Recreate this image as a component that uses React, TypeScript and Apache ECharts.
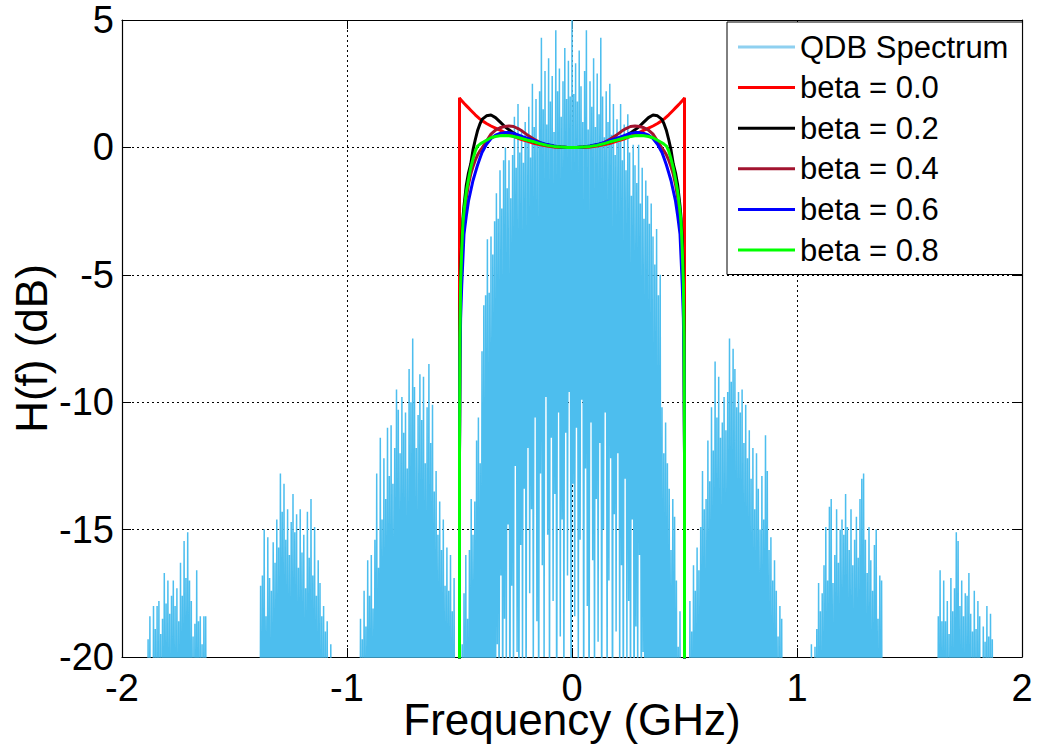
import React, { useEffect, useRef } from "react";
import * as echarts from "echarts";

// ---------- Spectrum (QDB) : spike peaks ----------
const SPEC_STEP = 0.008; // GHz between neighbouring spikes
const FLOOR_DB = -30; // nulls between spikes fall below the axis

const L3_START = -1.884;
const L3_PEAKS = [-19.3, -18.4, -21, -18.0, -18.9, -18.0, -17.8, -19.1, -18.5, -16.7, -17.9, -17.0, -18.3, -17.6, -17.0, -18.0, -17.3, -18.6, -16.3, -17.6, -15.45, -16.9, -15.1, -17.0, -17.8, -19.2, -18.7, -16.6, -18.6, -18.4, -19.5, -18.4, -18.4];

const L2_START = -1.384;
const L2_PEAKS = [-17.2, -16.8, -15.0, -18.4, -15.3, -16.9, -17.4, -15.5, -16.3, -14.6, -15.7, -12.8, -14.3, -13.2, -15.4, -14.2, -16.0, -14.7, -13.6, -15.1, -14.4, -16.5, -14.2, -15.9, -15.2, -17.3, -14.3, -16.1, -13.8, -16.8, -14.9, -17.6, -16.2, -17.1, -18.4, -18.0, -19.0, -18.6, -21, -19.5];

const L1_START = -0.94;
const L1_PEAKS = [-18.5, -19.3, -17.4, -18.8, -16.2, -17.6, -16.0, -18.1, -15.4, -12.8, -16.5, -11.4, -14.6, -12.2, -13.8, -11.0, -12.9, -10.9, -13.2, -11.8, -9.5, -10.3, -12.0, -9.8, -11.2, -10.4, -12.6, -8.7, -10.0, -7.5, -9.4, -11.8, -10.5, -8.9, -10.7, -9.0, -12.4, -10.2, -8.5, -11.6, -10.1, -13.5, -12.7, -15.2, -13.9, -15.8, -14.6, -17.2, -15.7, -17.4, -16.0, -18.2, -16.9];

// main lobe: troughs at MAIN_TROUGH_START + j*step, peaks halfway between
const MAIN_TROUGH_START = -0.5;
const MAIN_PEAKS = [
  -21, -19.5, -17.5, -16, -18.5,
  -15.8, -13.8, -15.2, -13.9, -11.5,
  -10.6, -12.4, -8.0, -6.2, -5.8,
  -3.6, -5.7, -3.5, -4.2, -2.9,
  -1.8, -2.8, -0.9, -2.4, -0.5,
  0.0, -1.6, -0.5, -2.0, -0.3,
  1.2, -0.8, 1.7, -0.2, 0.6,
  -0.6, 1.0, 0.3, 1.6, -0.4,
  2.5, 0.8, 1.9, 0.2, 2.2,
  4.3, 1.5, 3.0, 0.9, 3.5,
  1.8, 2.8, 0.6, 4.6, 2.2,
  3.1, 1.2, 2.6, 3.9, 1.9,
  3.4, 2.0, 5.0, 2.1, 3.3,
  1.8, 3.8, 2.4, 1.0, 3.0,
  4.6, 0.7, 2.6, 1.6, 3.5,
  0.8, 2.9, 1.3, 4.3, 2.0,
  0.4, 2.2, 1.0, 2.5, 0.5,
  1.7, -0.3, 1.1, 0.2, 1.7,
  -0.5, 0.9, -0.9, 1.3, -0.2,
  -1.9, 0.1, -0.7, -1.4, 0.1,
  -2.2, -0.8, -2.8, -1.3, -1.9,
  -3.0, -2.2, -3.5, -4.6, -3.2,
  -5.8, -5.0, -10.2, -12.0, -10.8,
  -12.4, -13.4, -15.8, -13.8, -14.5,
  -17.0, -19.6, -18.2, -21, -20.5,
];
const MAIN_TROUGHS = [
  -30, -30, -30, -30, -30,
  -30, -30, -30, -30, -30,
  -30, -28, -30, -26, -30,
  -25, -28, -24, -27, -22,
  -25, -19.5, -23, -16.8, -24,
  -18.5, -21, -14.8, -25, -17.2,
  -22, -12.5, -19.8, -24, -15.6,
  -20.5, -13.4, -23, -11.8, -17.5,
  -14.2, -21, -10.6, -18.6, -24,
  -12.8, -16.4, -20, -9.8, -15.2,
  -22, -11.4, -17.8, -13.6, -25,
  -10.4, -19.2, -14.6, -21.5, -11.2,
  -16.8, -9.6, -24, -13.2, -18.4,
  -11.0, -20.8, -15.4, -9.9, -23,
  -12.6, -18.0, -25, -10.8, -16.2,
  -21.5, -13.8, -19.4, -11.6, -24,
  -15.0, -10.4, -22, -17.0, -12.2,
  -25, -14.4, -19.0, -12.0, -21,
  -16.4, -24, -13.0, -20.2, -17.8,
  -23, -14.6, -25, -18.8, -21.5,
  -16.0, -24, -19.8, -26, -22,
  -25, -28, -23, -27, -25,
  -30, -26, -30, -28, -30,
  -30, -30, -30, -30, -30,
  -30, -30, -30, -30, -30, -30,
];

const R1_START = 0.524;
const R1_PEAKS = [-17.8, -19.0, -16.4, -17.4, -15.7, -16.6, -14.9, -12.7, -14.2, -13.8, -11.5, -13.1, -10.2, -11.9, -8.4, -10.6, -9.0, -11.4, -10.8, -9.8, -11.1, -9.6, -7.5, -9.2, -7.9, -8.7, -10.2, -9.6, -10.4, -9.5, -11.6, -10.1, -12.2, -11.1, -13.0, -11.8, -14.2, -12.0, -13.4, -15.0, -12.9, -14.6, -11.3, -12.7, -15.8, -15.3, -17.0, -16.2, -17.4, -19.2, -18.0, -18.5, -21];

const R2_START = 1.064;
const R2_PEAKS = [-19.5, -21, -19.6, -18.9, -17.1, -18.2, -17.5, -16.4, -14.9, -17.0, -14.1, -13.8, -17.1, -16.0, -14.2, -16.3, -15.0, -14.6, -15.2, -13.6, -14.9, -15.8, -14.2, -16.4, -15.4, -14.5, -16.1, -13.8, -13.0, -12.8, -15.4, -16.7, -14.9, -16.2, -17.4, -15.6, -15.0, -18.5, -16.8, -17.0];

const R3_START = 1.628;
const R3_PEAKS = [-18.4, -16.6, -18.6, -17.0, -18.6, -17.8, -19.1, -16.9, -18.2, -17.3, -15.1, -15.45, -18.0, -17.0, -18.4, -17.5, -17.6, -16.7, -18.3, -19.0, -17.4, -18.9, -17.8, -18.4, -20.5, -18.8, -19.4, -18.0, -19.2, -18.3, -19.3, -21, -20.5];

// ---------- Filter responses H(f) in dB ----------
const F_FILTER = [-0.5, -0.5, -0.498, -0.495, -0.49, -0.485, -0.48, -0.47, -0.46, -0.45, -0.44, -0.43, -0.42, -0.41, -0.4, -0.38, -0.36, -0.34, -0.32, -0.3, -0.28, -0.26, -0.24, -0.22, -0.2, -0.17, -0.14, -0.11, -0.08, -0.05, -0.02, 0, 0.02, 0.05, 0.08, 0.11, 0.14, 0.17, 0.2, 0.22, 0.24, 0.26, 0.28, 0.3, 0.32, 0.34, 0.36, 0.38, 0.4, 0.41, 0.42, 0.43, 0.44, 0.45, 0.46, 0.47, 0.48, 0.485, 0.49, 0.495, 0.498, 0.5, 0.5];

const BETA_00 = [-30, 1.95, 1.92, 1.88, 1.83, 1.78, 1.73, 1.64, 1.55, 1.46, 1.37, 1.28, 1.2, 1.12, 1.05, 0.94, 0.84, 0.76, 0.68, 0.59, 0.51, 0.43, 0.36, 0.3, 0.25, 0.16, 0.1, 0.05, 0.02, 0.01, 0.0, 0, 0.0, 0.01, 0.02, 0.05, 0.1, 0.16, 0.25, 0.3, 0.36, 0.43, 0.51, 0.59, 0.68, 0.76, 0.84, 0.94, 1.05, 1.12, 1.2, 1.28, 1.37, 1.46, 1.55, 1.64, 1.73, 1.78, 1.83, 1.88, 1.92, 1.95, -30];
const BETA_02 = [-30, -12, -7, -5, -3.6, -2.8, -2.3, -1.5, -1.0, -0.65, -0.1, 0.3, 0.65, 0.9, 1.1, 1.24, 1.27, 1.17, 1.0, 0.83, 0.69, 0.57, 0.46, 0.38, 0.31, 0.22, 0.15, 0.09, 0.05, 0.02, 0.0, 0, 0.0, 0.02, 0.05, 0.09, 0.15, 0.22, 0.31, 0.38, 0.46, 0.57, 0.69, 0.83, 1.0, 1.17, 1.27, 1.24, 1.1, 0.9, 0.65, 0.3, -0.1, -0.65, -1.0, -1.5, -2.3, -2.8, -3.6, -5, -7, -12, -30];
const BETA_04 = [-30, -12, -7.5, -5.8, -4.3, -3.4, -2.8, -2.0, -1.45, -1.05, -0.75, -0.5, -0.3, -0.15, -0.03, 0.25, 0.52, 0.68, 0.77, 0.82, 0.84, 0.82, 0.74, 0.63, 0.5, 0.33, 0.18, 0.08, 0.03, 0.01, 0.0, 0, 0.0, 0.01, 0.03, 0.08, 0.18, 0.33, 0.5, 0.63, 0.74, 0.82, 0.84, 0.82, 0.77, 0.68, 0.52, 0.25, -0.03, -0.15, -0.3, -0.5, -0.75, -1.05, -1.45, -2.0, -2.8, -3.4, -4.3, -5.8, -7.5, -12, -30];
const BETA_06 = [-30, -12, -8.5, -6.7, -5.4, -4.4, -3.4, -2.7, -2.1, -1.7, -1.3, -1.0, -0.7, -0.45, -0.2, 0.12, 0.35, 0.48, 0.55, 0.58, 0.58, 0.55, 0.49, 0.42, 0.36, 0.27, 0.18, 0.11, 0.06, 0.02, 0.0, 0, 0.0, 0.02, 0.06, 0.11, 0.18, 0.27, 0.36, 0.42, 0.49, 0.55, 0.58, 0.58, 0.55, 0.48, 0.35, 0.12, -0.2, -0.45, -0.7, -1.0, -1.3, -1.7, -2.1, -2.7, -3.4, -4.4, -5.4, -6.7, -8.5, -12, -30];
const BETA_08 = [-30, -12, -7.5, -5.3, -4.0, -3.0, -2.5, -1.75, -1.25, -0.8, -0.45, -0.15, 0.05, 0.12, 0.18, 0.28, 0.38, 0.43, 0.46, 0.47, 0.46, 0.43, 0.39, 0.34, 0.29, 0.22, 0.14, 0.08, 0.04, 0.02, 0.0, 0, 0.0, 0.02, 0.04, 0.08, 0.14, 0.22, 0.29, 0.34, 0.39, 0.43, 0.46, 0.47, 0.46, 0.43, 0.38, 0.28, 0.18, 0.12, 0.05, -0.15, -0.45, -0.8, -1.25, -1.75, -2.5, -3.0, -4.0, -5.3, -7.5, -12, -30];

const X_TICKS = { min: -2, max: 2, interval: 1 };
const Y_TICKS = { min: -20, max: 5, interval: 5 };

const SERIES_NAMES = ["QDB Spectrum", "beta = 0.0", "beta = 0.2", "beta = 0.4", "beta = 0.6", "beta = 0.8"];
const BETA_VALUES = [BETA_00, BETA_02, BETA_04, BETA_06, BETA_08];
const BETA_COLORS = ["#FF0000", "#000000", "#A2142F", "#0000FF", "#00FF00"];
const SPEC_COLOR = "#4DBEEE";
const SPEC_LEGEND_COLOR = "#8ED0F0";

const r4 = (v: number) => Math.round(v * 10000) / 10000;

function sideLobe(start: number, peaks: number[]): number[][] {
  const pts: number[][] = [];
  peaks.forEach((p, i) => {
    const f = start + i * SPEC_STEP;
    pts.push([r4(f - SPEC_STEP / 2), FLOOR_DB]);
    pts.push([r4(f), p]);
  });
  pts.push([r4(start + (peaks.length - 1) * SPEC_STEP + SPEC_STEP / 2), FLOOR_DB]);
  return pts;
}

function mainLobe(): number[][] {
  const pts: number[][] = [];
  MAIN_TROUGHS.forEach((t, j) => {
    const f = MAIN_TROUGH_START + j * SPEC_STEP;
    pts.push([r4(f), t]);
    if (j < MAIN_PEAKS.length) pts.push([r4(f + SPEC_STEP / 2), MAIN_PEAKS[j]]);
  });
  return pts;
}

const FONT = "'Liberation Sans', Arial, Helvetica, sans-serif";

export default function App() {
  const ref = useRef<HTMLDivElement>(null);

  useEffect(() => {
    if (!ref.current) return;
    const chart = echarts.init(ref.current, undefined, { renderer: "svg" });

    const spectrum = [
      ...sideLobe(L3_START, L3_PEAKS),
      ...sideLobe(L2_START, L2_PEAKS),
      ...sideLobe(L1_START, L1_PEAKS),
      ...mainLobe(),
      ...sideLobe(R1_START, R1_PEAKS),
      ...sideLobe(R2_START, R2_PEAKS),
      ...sideLobe(R3_START, R3_PEAKS),
    ];

    const axisLine = { onZero: false, lineStyle: { color: "#000", width: 1.2 } };
    const axisTick = { show: true, inside: true, length: 9, lineStyle: { color: "#000", width: 1 } };
    const splitLine = { show: true, lineStyle: { color: "#000", width: 1, type: [2, 3] as number[] } };

    const option: any = {
      animation: false,
      backgroundColor: "#ffffff",
      textStyle: { fontFamily: FONT },
      grid: {
        left: 122,
        top: 20,
        width: 900,
        height: 637,
        containLabel: false,
        outerBoundsMode: "none",
      },
      legend: {
        show: true,
        orient: "vertical",
        left: 727,
        top: 22,
        icon: "rect",
        itemWidth: 57,
        itemHeight: 3,
        itemGap: 9.6,
        padding: [9.5, 14, 9, 11],
        backgroundColor: "#ffffff",
        borderColor: "#000000",
        borderWidth: 1,
        selectedMode: false,
        textStyle: { fontSize: 31, color: "#000", fontFamily: FONT, lineHeight: 31 },
        data: [
          { name: SERIES_NAMES[0], itemStyle: { color: SPEC_LEGEND_COLOR } },
          ...SERIES_NAMES.slice(1).map((n) => ({ name: n })),
        ],
      },
      xAxis: [
        {
          type: "value",
          position: "bottom",
          ...X_TICKS,
          name: "Frequency (GHz)",
          nameLocation: "middle",
          nameGap: 47,
          nameMoveOverlap: false,
          nameTextStyle: { fontSize: 44, color: "#000", fontFamily: FONT, lineHeight: 30 },
          axisLine,
          axisTick,
          axisLabel: { fontSize: 38, color: "#000", margin: 16, lineHeight: 30, fontFamily: FONT },
          splitLine,
        },
        {
          type: "value",
          position: "top",
          ...X_TICKS,
          axisLine,
          axisTick,
          axisLabel: { show: false },
          splitLine: { show: false },
        },
      ],
      yAxis: [
        {
          type: "value",
          position: "left",
          ...Y_TICKS,
          name: "H(f) (dB)",
          nameLocation: "middle",
          nameGap: 69,
          nameMoveOverlap: false,
          nameTextStyle: {
            fontSize: 44,
            color: "#000",
            fontFamily: FONT,
            lineHeight: 44,
            padding: [0, 20, 0, 0],
          },
          axisLine,
          axisTick,
          axisLabel: { fontSize: 38, color: "#000", margin: 8, fontFamily: FONT },
          splitLine,
        },
        {
          type: "value",
          position: "right",
          ...Y_TICKS,
          axisLine,
          axisTick,
          axisLabel: { show: false },
          splitLine: { show: false },
        },
      ],
      series: [
        {
          type: "line",
          name: SERIES_NAMES[0],
          data: spectrum,
          symbol: "none",
          showSymbol: false,
          clip: true,
          xAxisIndex: 0,
          yAxisIndex: 0,
          lineStyle: { color: SPEC_COLOR, width: 1.5 },
          itemStyle: { color: SPEC_COLOR },
          z: 2,
        },
        ...BETA_VALUES.map((vals, k) => ({
          type: "line",
          name: SERIES_NAMES[k + 1],
          data: F_FILTER.map((f, i) => [f, vals[i]]),
          symbol: "none",
          showSymbol: false,
          clip: true,
          xAxisIndex: 0,
          yAxisIndex: 0,
          lineStyle: { color: BETA_COLORS[k], width: 3 },
          itemStyle: { color: BETA_COLORS[k] },
          z: 3 + k,
        })),
      ],
    };

    chart.setOption(option);
    return () => chart.dispose();
  }, []);

  return (
    <div
      ref={ref}
      style={{ position: "absolute", left: 0, top: 0, width: 1038, height: 748, background: "#fff" }}
    />
  );
}
